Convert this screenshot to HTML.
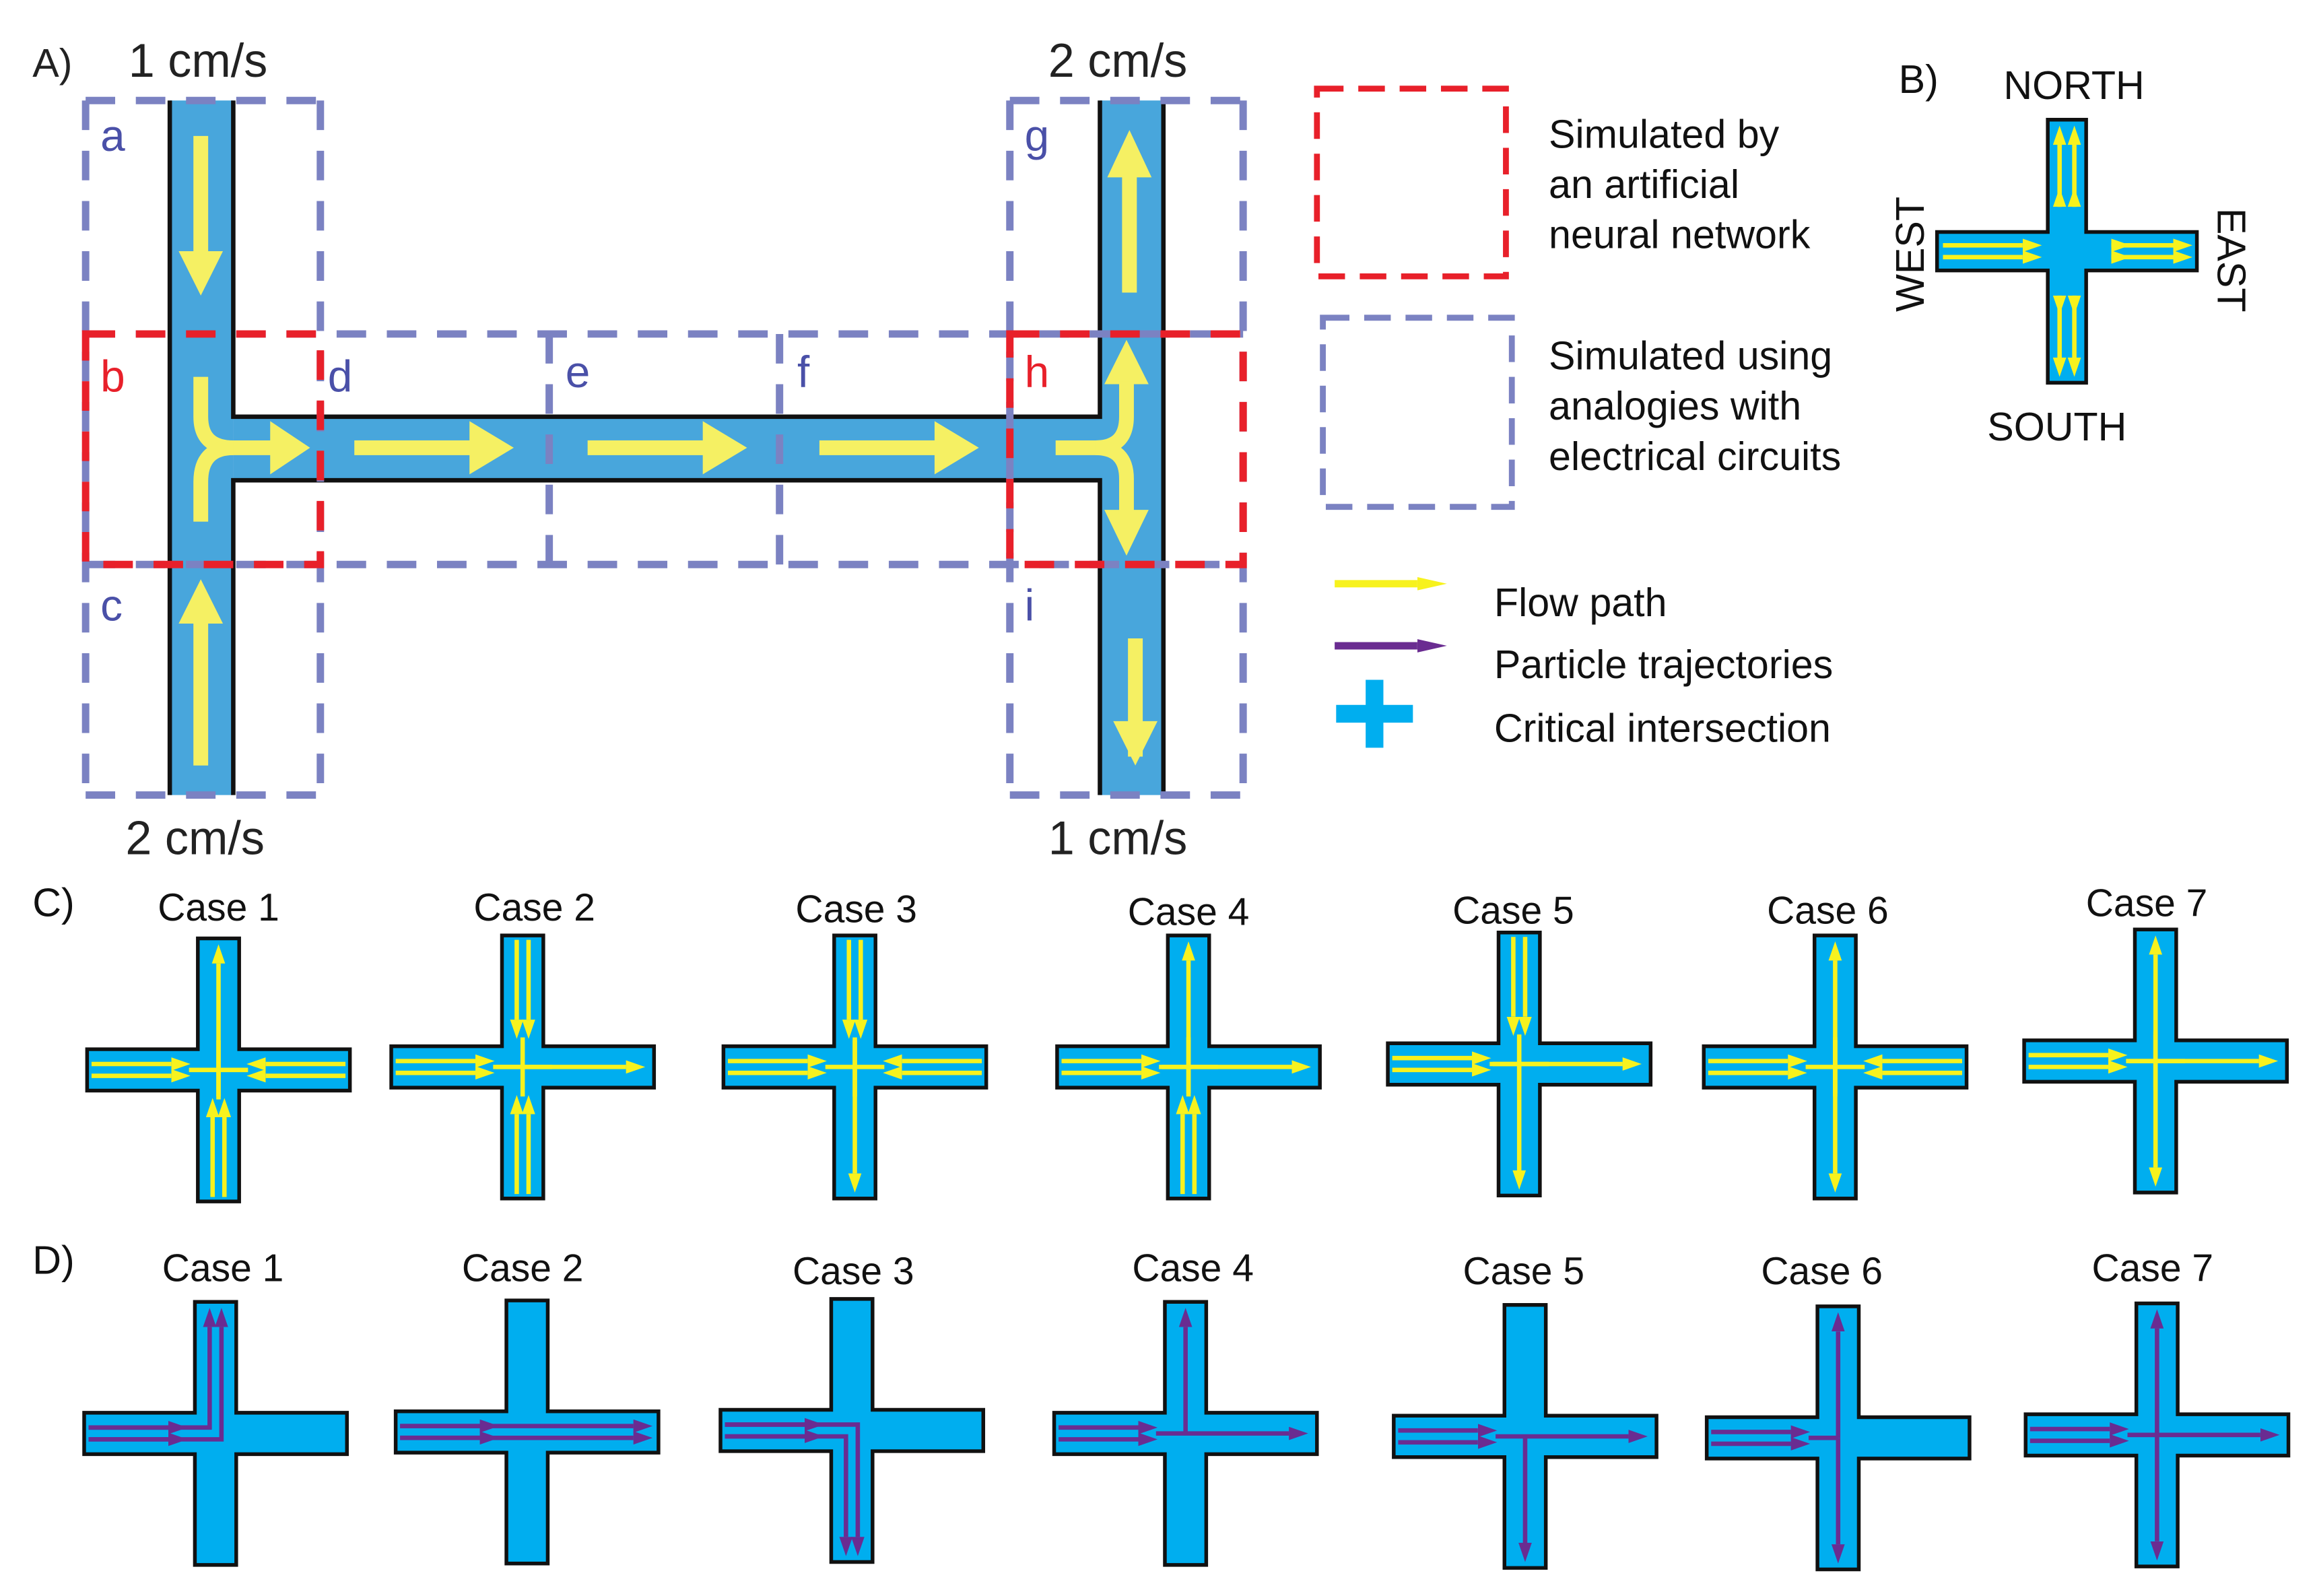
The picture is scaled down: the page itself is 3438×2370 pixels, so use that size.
<!DOCTYPE html>
<html><head><meta charset="utf-8"><style>
html,body{margin:0;padding:0;background:#fff;}
svg{display:block;}
text{font-family:"Liberation Sans",Arial,sans-serif;}
</style></head><body>
<svg width="3438" height="2370" viewBox="0 0 1568 1080" preserveAspectRatio="none" xmlns="http://www.w3.org/2000/svg">
<defs>
<marker id="ym" markerUnits="userSpaceOnUse" markerWidth="13" markerHeight="9" refX="0" refY="4.5" orient="auto"><path d="M0,0L13,4.5L0,9z" fill="#f7f21e"/></marker>
<marker id="pm" markerUnits="userSpaceOnUse" markerWidth="13" markerHeight="9" refX="0" refY="4.5" orient="auto"><path d="M0,0L13,4.5L0,9z" fill="#6a2c91"/></marker>
<marker id="ymb" markerUnits="userSpaceOnUse" markerWidth="20" markerHeight="9" refX="0" refY="4.5" orient="auto"><path d="M0,0L20,4.5L0,9z" fill="#f7f21e"/></marker>
<marker id="pmb" markerUnits="userSpaceOnUse" markerWidth="20" markerHeight="9" refX="0" refY="4.5" orient="auto"><path d="M0,0L20,4.5L0,9z" fill="#6a2c91"/></marker>
<path id="cross" d="M-14,-89H14V-14H89V14H14V89H-14V14H-89V-14H-14Z" fill="#00aeef" stroke="#111" stroke-width="2.5"/>
<g id="yWin" stroke="#f7f21e" stroke-width="3" marker-end="url(#ym)"><line x1="-86" y1="-4" x2="-32" y2="-4"/><line x1="-86" y1="4" x2="-32" y2="4"/></g>
<g id="yEin" stroke="#f7f21e" stroke-width="3" marker-end="url(#ym)"><line x1="86" y1="-4" x2="32" y2="-4"/><line x1="86" y1="4" x2="32" y2="4"/></g>
<g id="yNin" stroke="#f7f21e" stroke-width="3" marker-end="url(#ym)"><line y1="-86" x1="-4" y2="-32" x2="-4"/><line y1="-86" x1="4" y2="-32" x2="4"/></g>
<g id="ySin" stroke="#f7f21e" stroke-width="3" marker-end="url(#ym)"><line y1="86" x1="-4" y2="32" x2="-4"/><line y1="86" x1="4" y2="32" x2="4"/></g>
<line id="yEout" x1="-18" y1="0" x2="70" y2="0" stroke="#f7f21e" stroke-width="3" marker-end="url(#ym)"/>
<line id="yNout" x1="0" y1="18" x2="0" y2="-72" stroke="#f7f21e" stroke-width="3" marker-end="url(#ym)"/>
<line id="ySout" x1="0" y1="-18" x2="0" y2="72" stroke="#f7f21e" stroke-width="3" marker-end="url(#ym)"/>
<g id="yC" stroke="#f7f21e" stroke-width="3"><line x1="-20" y1="0" x2="20" y2="0"/><line x1="0" y1="-20" x2="0" y2="20"/></g>
<g id="pWin" stroke="#6a2c91" stroke-width="3" marker-end="url(#pm)"><line x1="-86" y1="-4" x2="-32" y2="-4"/><line x1="-86" y1="4" x2="-32" y2="4"/></g>
<line id="pEout" x1="-20" y1="0" x2="70" y2="0" stroke="#6a2c91" stroke-width="3" marker-end="url(#pm)"/>
<line id="pNout" x1="0" y1="0" x2="0" y2="-72" stroke="#6a2c91" stroke-width="3" marker-end="url(#pm)"/>
<line id="pSout" x1="0" y1="0" x2="0" y2="72" stroke="#6a2c91" stroke-width="3" marker-end="url(#pm)"/>
</defs>

<g fill="#48a6dc">
<rect x="115" y="68" width="43" height="470"/>
<rect x="158" y="282" width="587" height="43"/>
<rect x="745" y="68" width="43" height="470"/>
</g>
<g stroke="#111" stroke-width="3" fill="none">
<line x1="115" y1="68" x2="115" y2="538"/>
<polyline points="158,68 158,282 745,282 745,68"/>
<polyline points="158,538 158,325 745,325 745,538"/>
<line x1="788" y1="68" x2="788" y2="538"/>
</g>
<g fill="#f5f063">
<rect x="131" y="92" width="10" height="80"/><polygon points="121,170 151,170 136,200"/>
<rect x="131" y="420" width="10" height="98"/><polygon points="121,422 151,422 136,392"/>
<rect x="240" y="298" width="80" height="10"/><polygon points="318,285 318,321 348,303"/>
<rect x="398" y="298" width="80" height="10"/><polygon points="476,285 476,321 506,303"/>
<rect x="555" y="298" width="80" height="10"/><polygon points="633,285 633,321 663,303"/>
<rect x="760" y="118" width="10" height="80"/><polygon points="750,120 780,120 765,88"/>
<rect x="764" y="432" width="10" height="80"/><polygon points="754,488 784,488 769,518"/>
<polygon points="183,285 183,321 210,303"/>
<polygon points="748,260 778,260 763,230"/>
<polygon points="748,345 778,345 763,376"/>
</g>
<g fill="none" stroke="#f5f063" stroke-width="10">
<path d="M136,255V282Q136,303 158,303H185"/>
<path d="M136,353V326Q136,303 158,303"/>
<path d="M715,303H742Q763,303 763,282V258"/>
<path d="M742,303Q763,303 763,324V348"/>
</g>
<g fill="none" stroke="#7b82c2" stroke-width="5" stroke-dasharray="20,14">
<path d="M58,68H217M684,68H842M58,226H842M58,382H842M58,538H217M684,538H842"/>
<path d="M58,68V538M217,68V538M372,226V382M528,226V382M684,68V538M842,68V538"/>
</g>
<g fill="none" stroke="#e8202a" stroke-width="5" stroke-dasharray="20,14">
<rect x="58" y="226" width="159" height="156"/>
<rect x="684" y="226" width="158" height="156"/>
</g>
<g font-size="32" fill="#222">
<text x="22" y="52" font-size="27">A)</text>
<text x="87" y="52">1 cm/s</text>
<text x="710" y="52">2 cm/s</text>
<text x="85" y="578">2 cm/s</text>
<text x="710" y="578">1 cm/s</text>
</g>
<g font-size="30" fill="#4a50a8">
<text x="68" y="102">a</text><text x="68" y="265" fill="#e8202a">b</text><text x="68" y="420">c</text>
<text x="222" y="265">d</text><text x="383" y="262">e</text><text x="540" y="262">f</text>
<text x="694" y="102">g</text><text x="694" y="262" fill="#e8202a">h</text><text x="694" y="420">i</text>
</g>

<rect x="892" y="60" width="128" height="127" fill="none" stroke="#e8202a" stroke-width="4" stroke-dasharray="18,10"/>
<rect x="896" y="215" width="128" height="128" fill="none" stroke="#7b82c2" stroke-width="4" stroke-dasharray="18,10"/>
<g font-size="27" fill="#111">
<text x="1049" y="100">Simulated by</text><text x="1049" y="134">an artificial</text><text x="1049" y="168">neural network</text>
<text x="1049" y="250">Simulated using</text><text x="1049" y="284">analogies with</text><text x="1049" y="318">electrical circuits</text>
<text x="1012" y="417">Flow path</text><text x="1012" y="459">Particle trajectories</text><text x="1012" y="502">Critical intersection</text>
</g>
<line x1="904" y1="395" x2="960" y2="395" stroke="#f7f21e" stroke-width="5" marker-end="url(#ymb)"/>
<line x1="904" y1="437" x2="960" y2="437" stroke="#6a2c91" stroke-width="5" marker-end="url(#pmb)"/>
<path d="M925,460h12v17h20v12h-20v17h-12v-17h-20v-12h20z" fill="#00aeef"/>

<text x="1286" y="63" font-size="27" fill="#111">B)</text>
<g transform="translate(1400,170)">
<path d="M-13,-89H13V-13H88V13H13V89H-13V13H-88V-13H-13Z" fill="#00aeef" stroke="#111" stroke-width="2.5"/>
<g stroke="#f7f21e" stroke-width="3" marker-end="url(#ym)" marker-start="url(#ym)">
<line x1="-5" y1="-30" x2="-5" y2="-72"/><line x1="5" y1="-30" x2="5" y2="-72"/>
<line x1="-5" y1="30" x2="-5" y2="72"/><line x1="5" y1="30" x2="5" y2="72"/>
<line x1="30" y1="-4" x2="72" y2="-4"/><line x1="30" y1="4" x2="72" y2="4"/>
</g>
<g stroke="#f7f21e" stroke-width="3" marker-end="url(#ym)">
<line x1="-84" y1="-4" x2="-30" y2="-4"/><line x1="-84" y1="4" x2="-30" y2="4"/>
</g>
</g>
<g font-size="27" fill="#111">
<text x="1357" y="67">NORTH</text><text x="1346" y="298">SOUTH</text>
<text transform="translate(1303,172) rotate(-90)" text-anchor="middle">WEST</text>
<text transform="translate(1502,176) rotate(90)" text-anchor="middle">EAST</text>
</g>

<g font-size="26" fill="#111" text-anchor="middle">
<text x="22" y="620" text-anchor="start" font-size="27">C)</text>
<text x="148" y="623">Case 1</text><text x="362" y="623">Case 2</text><text x="580" y="624">Case 3</text>
<text x="805" y="626">Case 4</text><text x="1025" y="625">Case 5</text><text x="1238" y="625">Case 6</text><text x="1454" y="620">Case 7</text>
<text x="22" y="862" text-anchor="start" font-size="27">D)</text>
<text x="151" y="867">Case 1</text><text x="354" y="867">Case 2</text><text x="578" y="869">Case 3</text>
<text x="808" y="867">Case 4</text><text x="1032" y="869">Case 5</text><text x="1234" y="869">Case 6</text><text x="1458" y="867">Case 7</text>
</g>
<g transform="translate(148,724)"><use href="#cross"/><use href="#yC"/><use href="#yWin"/><use href="#yEin"/><use href="#ySin"/><use href="#yNout"/></g>
<g transform="translate(354,722)"><use href="#cross"/><use href="#yC"/><use href="#yWin"/><use href="#yEout"/><use href="#yNin"/><use href="#ySin"/></g>
<g transform="translate(579,722)"><use href="#cross"/><use href="#yC"/><use href="#yWin"/><use href="#yEin"/><use href="#yNin"/><use href="#ySout"/></g>
<g transform="translate(805,722)"><use href="#cross"/><use href="#yC"/><use href="#yWin"/><use href="#yEout"/><use href="#yNout"/><use href="#ySin"/></g>
<g transform="translate(1029,720)"><use href="#cross"/><use href="#yC"/><use href="#yWin"/><use href="#yEout"/><use href="#yNin"/><use href="#ySout"/></g>
<g transform="translate(1243,722)"><use href="#cross"/><use href="#yC"/><use href="#yWin"/><use href="#yEin"/><use href="#yNout"/><use href="#ySout"/></g>
<g transform="translate(1460,718)"><use href="#cross"/><use href="#yC"/><use href="#yWin"/><use href="#yEout"/><use href="#yNout"/><use href="#ySout"/></g>

<g transform="translate(146,970)"><use href="#cross"/>
<g fill="none" stroke="#6a2c91" stroke-width="3" marker-end="url(#pm)"><path d="M-86,-4H-4V-72"/><path d="M-86,4H4V-72"/></g>
<use href="#pWin"/></g>
<g transform="translate(357,969)"><use href="#cross"/>
<g stroke="#6a2c91" stroke-width="3" marker-end="url(#pm)"><line x1="-86" y1="-4" x2="72" y2="-4"/><line x1="-86" y1="4" x2="72" y2="4"/><line x1="-86" y1="-4" x2="-32" y2="-4"/><line x1="-86" y1="4" x2="-32" y2="4"/></g></g>
<g transform="translate(577,968)"><use href="#cross"/>
<g fill="none" stroke="#6a2c91" stroke-width="3" marker-end="url(#pm)"><path d="M-86,-4H4V72"/><path d="M-86,4H-4V72"/></g>
<use href="#pWin"/></g>
<g transform="translate(803,970)"><use href="#cross"/><use href="#pWin"/><use href="#pEout"/><use href="#pNout"/></g>
<g transform="translate(1033,972)"><use href="#cross"/><use href="#pWin"/><use href="#pEout"/><use href="#pSout"/></g>
<g transform="translate(1245,973)"><use href="#cross"/><use href="#pWin"/><line x1="-20" y1="0" x2="0" y2="0" stroke="#6a2c91" stroke-width="3"/><use href="#pNout"/><use href="#pSout"/></g>
<g transform="translate(1461,971)"><use href="#cross"/><use href="#pWin"/><use href="#pEout"/><use href="#pNout"/><use href="#pSout"/></g>
</svg>
</body></html>
